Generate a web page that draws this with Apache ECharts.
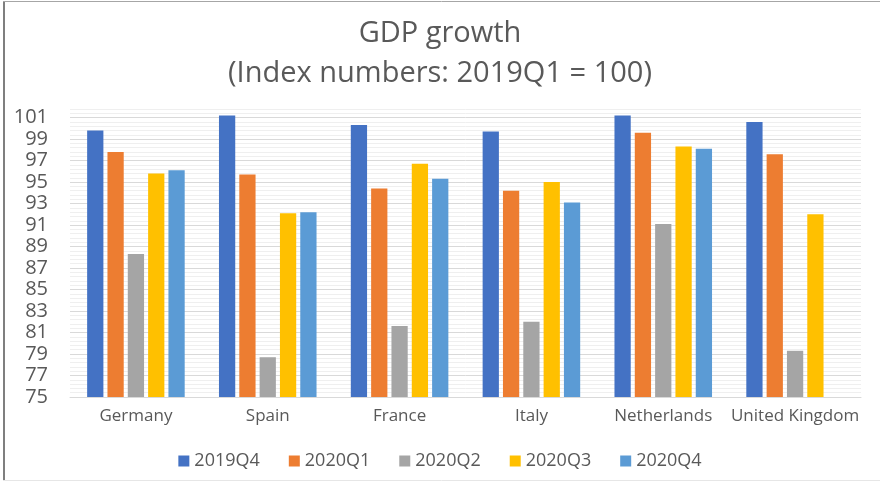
<!DOCTYPE html>
<html>
<head>
<meta charset="utf-8">
<script src="https://cdn.jsdelivr.net/npm/echarts@6/dist/echarts.min.js"></script>
<style>
  html, body { margin: 0; padding: 0; background: #fff; }
  #chart { width: 880px; height: 481px; }
</style>
</head>
<body>
<div id="chart"></div>
<script>
// GDP index (2019Q1 = 100) by country and quarter
const countries = ['Germany', 'Spain', 'France', 'Italy', 'Netherlands', 'United Kingdom'];
const quarters = ['2019Q4', '2020Q1', '2020Q2', '2020Q3', '2020Q4'];
const q2019Q4 = [99.8, 101.2, 100.3, 99.7, 101.2, 100.6];
const q2020Q1 = [97.8, 95.7, 94.4, 94.2, 99.6, 97.6];
const q2020Q2 = [88.3, 78.7, 81.6, 82.0, 91.1, 79.3];
const q2020Q3 = [95.8, 92.1, 96.7, 95.0, 98.3, 92.0];
const q2020Q4 = [96.1, 92.2, 95.3, 93.1, 98.1, null];
const seriesValues = [q2019Q4, q2020Q1, q2020Q2, q2020Q3, q2020Q4];
const palette = ['#4472C4', '#ED7D31', '#A5A5A5', '#FFC000', '#5B9BD5'];

const FONT = '"Open Sans", "Noto Sans", sans-serif';
const TEXT = '#595959';

// grid lines: major every 2 (odd values), minor every 0.4
const MAJOR = '#d9d9d9', MINOR = '#efefef', NONE = 'rgba(0,0,0,0)';
const gridColors = [MAJOR, NONE, MINOR, NONE, MINOR, NONE, MINOR, NONE, MINOR, NONE];

const chart = echarts.init(document.getElementById('chart'), null, { renderer: 'canvas' });

chart.setOption({
  backgroundColor: '#ffffff',
  animation: false,
  color: palette,
  title: {
    text: 'GDP growth\n(Index numbers: 2019Q1 = 100)',
    left: 'center',
    top: 9,
    textStyle: {
      fontFamily: FONT,
      fontSize: 29,
      fontWeight: 'normal',
      color: TEXT,
      lineHeight: 40
    }
  },
  legend: {
    bottom: 6,
    left: 'center',
    icon: 'rect',
    itemWidth: 11,
    itemHeight: 11,
    itemGap: 29,
    textStyle: { fontFamily: FONT, fontSize: 18, color: TEXT },
    data: quarters
  },
  grid: { left: 70, right: 19, top: 109, bottom: 84, containLabel: false },
  xAxis: {
    type: 'category',
    data: countries,
    axisLine: { show: true, lineStyle: { color: '#d9d9d9', width: 1 } },
    axisTick: { show: false },
    axisLabel: { fontFamily: FONT, fontSize: 17, color: TEXT, margin: 11, interval: 0 }
  },
  yAxis: {
    type: 'value',
    min: 75,
    max: 101.8,
    interval: 0.2,
    axisLine: { show: false },
    axisTick: { show: false },
    splitLine: { show: true, lineStyle: { color: gridColors, width: 1 } },
    axisLabel: {
      fontFamily: FONT,
      fontSize: 20,
      color: TEXT,
      margin: 22,
      formatter: function (v) {
        const r = Math.round(v);
        return (Math.abs(v - r) < 1e-6 && Math.abs(r % 2) === 1) ? String(r) : '';
      }
    }
  },
  graphic: [
    { type: 'line', shape: { x1: 4, y1: 1, x2: 4, y2: 481 }, style: { stroke: '#7f7f7f', lineWidth: 2 }, silent: true },
    { type: 'line', shape: { x1: 3, y1: 1.5, x2: 880, y2: 1.5 }, style: { stroke: '#a6a6a6', lineWidth: 1 }, silent: true },
    { type: 'line', shape: { x1: 3, y1: 480.5, x2: 880, y2: 480.5 }, style: { stroke: '#e6e6e6', lineWidth: 1 }, silent: true }
  ],
  series: quarters.map(function (q, i) {
    return {
      name: q,
      type: 'bar',
      data: seriesValues[i],
      barGap: '25%',
      barCategoryGap: '26%',
      itemStyle: { color: palette[i] }
    };
  })
});
</script>
</body>
</html>
